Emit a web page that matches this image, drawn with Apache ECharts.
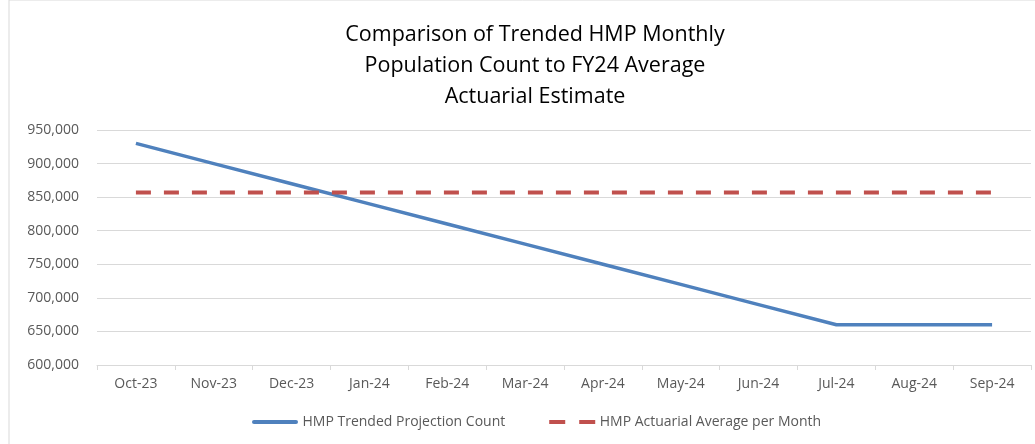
<!DOCTYPE html>
<html>
<head>
<meta charset="utf-8">
<script src="https://cdn.jsdelivr.net/npm/echarts@6/dist/echarts.min.js"></script>
<style>
  html, body { margin: 0; padding: 0; background: #fff; }
  #main { width: 1035px; height: 444px; }
</style>
</head>
<body>
<div id="main"></div>
<script>
  var months = ['Oct-23', 'Nov-23', 'Dec-23', 'Jan-24', 'Feb-24', 'Mar-24', 'Apr-24', 'May-24', 'Jun-24', 'Jul-24', 'Aug-24', 'Sep-24'];
  var trended = [930000, 900000, 870000, 840000, 810000, 780000, 750000, 720000, 690000, 660000, 660000, 660000];
  var actuarial = [857000, 857000, 857000, 857000, 857000, 857000, 857000, 857000, 857000, 857000, 857000, 857000];

  var chart = echarts.init(document.getElementById('main'));
  var font = 'Open Sans, Liberation Sans, sans-serif';
  var option = {
    animation: false,
    title: {
      text: 'Comparison of Trended HMP Monthly\nPopulation Count to FY24 Average\nActuarial Estimate',
      left: 530,
      textAlign: 'center',
      top: 14,
      textStyle: {
        fontFamily: font,
        fontSize: 21.5,
        fontWeight: 'normal',
        color: '#000',
        lineHeight: 31
      }
    },
    graphic: [{
      type: 'rect',
      shape: { x: 9, y: 0, width: 1040, height: 460 },
      style: { fill: 'none', stroke: '#d9d9d9', lineWidth: 1 },
      silent: true
    }],
    legend: {
      bottom: 10,
      left: 247,
      itemGap: 44,
      itemWidth: 47,
      itemHeight: 4,
      textStyle: { fontFamily: font, fontSize: 14, color: '#595959', padding: [0, 0, 0, -1] },
      data: [
        { name: 'HMP Trended Projection Count', icon: 'path://M2,0h42a2,2 0 0 1 0,4h-42a2,2 0 0 1 0,-4z' },
        { name: 'HMP Actuarial Average per Month', icon: 'path://M0,0h16v4h-16z M30,0h16v4h-16z' }
      ]
    },
    grid: { left: 97, right: 4, top: 130, bottom: 79 },
    xAxis: {
      type: 'category',
      data: months,
      axisLine: { lineStyle: { color: '#d9d9d9' } },
      axisTick: { show: true, lineStyle: { color: '#d9d9d9' } },
      axisLabel: { fontFamily: font, fontSize: 14, color: '#595959', margin: 12 }
    },
    yAxis: {
      type: 'value',
      min: 600000,
      max: 950000,
      interval: 50000,
      axisLine: { show: false },
      axisTick: { show: false },
      splitLine: { lineStyle: { color: '#d9d9d9' } },
      axisLabel: {
        fontFamily: font,
        fontSize: 14,
        color: '#595959',
        margin: 18,
        formatter: function (v) { return v.toLocaleString('en-US'); }
      }
    },
    series: [
      {
        name: 'HMP Trended Projection Count',
        type: 'line',
        data: trended,
        symbol: 'none',
        lineStyle: { color: '#4F81BD', width: 3.5 },
        itemStyle: { color: '#4F81BD' }
      },
      {
        name: 'HMP Actuarial Average per Month',
        type: 'line',
        data: actuarial,
        symbol: 'none',
        lineStyle: { color: '#C0504D', width: 4, type: [15, 13] },
        itemStyle: { color: '#C0504D' }
      }
    ]
  };
  chart.setOption(option);
</script>
</body>
</html>
